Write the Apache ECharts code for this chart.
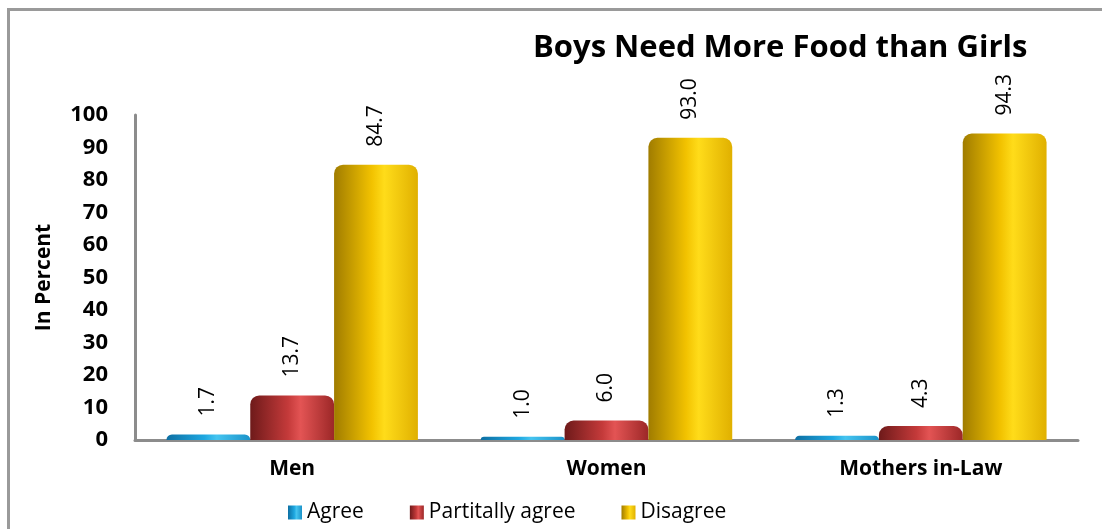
<!DOCTYPE html>
<html>
<head>
<meta charset="utf-8">
<script src="https://cdn.jsdelivr.net/npm/echarts@6/dist/echarts.min.js"></script>
<style>
  html, body { margin: 0; padding: 0; background: #fff; }
  #chart { width: 1102px; height: 529px; }
</style>
</head>
<body>
<div id="chart"></div>
<script>
// Survey groups and responses (percent)
const categories = ['Men', 'Women', 'Mothers in-Law'];
const agree = [1.7, 1.0, 1.3];
const partiallyAgree = [13.7, 6.0, 4.3];
const disagree = [84.7, 93.0, 94.3];
const seriesNames = ['Agree', 'Partitally agree', 'Disagree'];
const yTicks = [0, 10, 20, 30, 40, 50, 60, 70, 80, 90, 100];

const FONT = '"Open Sans", "Noto Sans", sans-serif';

// Horizontal gradient that gives each bar a cylinder look
function cylinder(dark, mid, light, edge) {
  return new echarts.graphic.LinearGradient(0, 0, 1, 0, [
    { offset: 0, color: dark },
    { offset: 0.45, color: mid },
    { offset: 0.6, color: light },
    { offset: 1, color: edge }
  ]);
}

const colors = [
  cylinder('#0d6fa3', '#1ea7e0', '#45c4f0', '#1b93c9'),
  cylinder('#6e1a1a', '#c43a3a', '#e35454', '#9c2727'),
  cylinder('#a07c00', '#f2c200', '#ffdc1a', '#e0b000')
];

function barSeries(name, data, color) {
  return {
    name: name,
    type: 'bar',
    data: data,
    barGap: '0%',
    barCategoryGap: '20%',
    itemStyle: { color: color, borderRadius: [9, 9, 0, 0] },
    label: {
      show: true,
      position: 'top',
      rotate: 90,
      align: 'left',
      verticalAlign: 'middle',
      distance: 18,
      fontFamily: FONT,
      fontSize: 21,
      color: '#000',
      formatter: p => p.value.toFixed(1)
    }
  };
}

const chart = echarts.init(document.getElementById('chart'), null, { renderer: 'canvas' });
chart.setOption({
  animation: false,
  title: {
    text: 'Boys Need More Food than Girls',
    left: 528,
    top: 28,
    textStyle: { fontFamily: FONT, fontSize: 31, fontWeight: 'bold', color: '#000' }
  },
  legend: {
    data: seriesNames,
    left: 283,
    top: 497,
    itemWidth: 14,
    itemHeight: 14,
    itemGap: 46,
    icon: 'rect',
    textStyle: { fontFamily: FONT, fontSize: 21, color: '#000' }
  },
  grid: { left: 135, right: 24, top: 115, bottom: 89, containLabel: false },
  xAxis: {
    type: 'category',
    data: categories,
    axisLine: { lineStyle: { color: '#8c8c8c', width: 3 } },
    axisTick: { show: false },
    axisLabel: {
      fontFamily: FONT, fontSize: 21, fontWeight: 'bold', color: '#000', margin: 19
    }
  },
  yAxis: {
    type: 'value',
    min: yTicks[0],
    max: yTicks[yTicks.length - 1],
    interval: 10,
    name: 'In Percent',
    nameLocation: 'middle',
    nameGap: 80,
    nameTextStyle: { fontFamily: FONT, fontSize: 21, fontWeight: 'bold', color: '#000' },
    axisLine: { show: true, lineStyle: { color: '#8c8c8c', width: 3 } },
    axisTick: { show: false },
    splitLine: { show: false },
    axisLabel: {
      fontFamily: FONT, fontSize: 22, fontWeight: 'bold', color: '#000', margin: 27
    }
  },
  graphic: [{
    type: 'rect',
    left: 6,
    top: 7,
    shape: { width: 1200, height: 600 },
    style: { fill: 'none', stroke: '#9a9a9a', lineWidth: 3 },
    silent: true,
    z: -1
  }],
  series: [
    barSeries(seriesNames[0], agree, colors[0]),
    barSeries(seriesNames[1], partiallyAgree, colors[1]),
    barSeries(seriesNames[2], disagree, colors[2])
  ]
});
</script>
</body>
</html>
